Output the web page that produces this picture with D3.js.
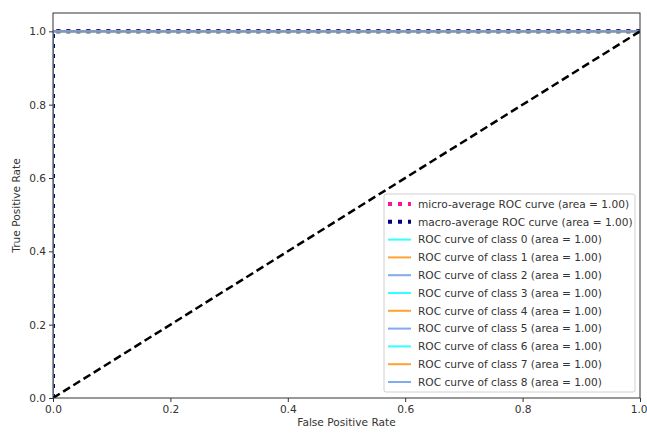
<!DOCTYPE html>
<html>
<head>
<meta charset="utf-8">
<script src="https://cdn.jsdelivr.net/npm/d3@7"></script>
<style>
    body { margin: 0; background: #fff; }
    text { font-family: "DejaVu Sans", sans-serif; fill: #333; }
    .axis path, .axis line { stroke: #333; }
</style>
</head>
<body>
<div id="roc"></div>
<script>
// ROC points (fpr, tpr) for each curve
var microCurve = [[0, 0], [0, 1], [1, 1]];
var macroCurve = [[0, 0], [0, 1], [1, 1]];
var classCurves = [
    [[0, 0], [0, 1], [1, 1]],
    [[0, 0], [0, 1], [1, 1]],
    [[0, 0], [0, 1], [1, 1]],
    [[0, 0], [0, 1], [1, 1]],
    [[0, 0], [0, 1], [1, 1]],
    [[0, 0], [0, 1], [1, 1]],
    [[0, 0], [0, 1], [1, 1]],
    [[0, 0], [0, 1], [1, 1]],
    [[0, 0], [0, 1], [1, 1]]
];
var microArea = 1.00;
var macroArea = 1.00;
var classAreas = [1.00, 1.00, 1.00, 1.00, 1.00, 1.00, 1.00, 1.00, 1.00];
var chanceLine = [[0, 0], [1, 1]];
var xTicks = [0, 0.2, 0.4, 0.6, 0.8, 1.0];
var yTicks = [0, 0.2, 0.4, 0.6, 0.8, 1.0];
var classColors = ["aqua", "darkorange", "cornflowerblue"];

var outerWidth = 647;
var outerHeight = 434;
var margin = {top: 13, right: 7, bottom: 36, left: 53};
var width = outerWidth - margin.left - margin.right;
var height = outerHeight - margin.top - margin.bottom;

var root = d3.select("#roc")
    .append("svg")
    .attr("width", outerWidth)
    .attr("height", outerHeight);

var svg = root.append("g")
    .attr("transform", "translate(" + margin.left + "," + margin.top + ")");

var xScale = d3.scaleLinear().domain([0, 1]).range([0, width]);
var yScale = d3.scaleLinear().domain([0, 1.05]).range([height, 0]);

svg.append("clipPath")
    .attr("id", "plot_clip")
    .append("rect")
    .attr("width", width)
    .attr("height", height);

var line = d3.line()
    .x(d => xScale(d[0]))
    .y(d => yScale(d[1]));

var plot = svg.append("g").attr("clip-path", "url(#plot_clip)");

plot.append("path")
    .datum(microCurve)
    .attr("d", line)
    .attr("fill", "none")
    .attr("stroke", "deeppink")
    .attr("stroke-width", 4)
    .attr("stroke-dasharray", "4,6");

plot.append("path")
    .datum(macroCurve)
    .attr("d", line)
    .attr("fill", "none")
    .attr("stroke", "navy")
    .attr("stroke-width", 4)
    .attr("stroke-dasharray", "4,6");

plot.selectAll(".class_curve")
    .data(classCurves)
    .enter().append("path")
    .attr("class", "class_curve")
    .attr("d", line)
    .attr("fill", "none")
    .attr("stroke", (d, i) => classColors[i % 3])
    .attr("stroke-width", 2)
    .attr("opacity", 0.8);

plot.append("path")
    .datum(chanceLine)
    .attr("d", line)
    .attr("fill", "none")
    .attr("stroke", "black")
    .attr("stroke-width", 2.5)
    .attr("stroke-dasharray", "8,4");

// Axes
var xAxis = svg.append("g")
    .attr("class", "x axis")
    .attr("transform", "translate(0," + height + ")")
    .call(d3.axisBottom(xScale).tickValues(xTicks).tickFormat(d3.format(".1f")).tickSize(4).tickSizeOuter(0));

xAxis.selectAll("text")
    .style("font-size", "10.6px");

// keep the last label inside the window
xAxis.selectAll("text")
    .filter(d => d === 1)
    .attr("text-anchor", "end")
    .attr("x", margin.right);

svg.append("g")
    .attr("class", "y axis")
    .call(d3.axisLeft(yScale).tickValues(yTicks).tickFormat(d3.format(".1f")).tickSize(4).tickSizeOuter(0))
    .selectAll("text")
    .style("font-size", "10.6px");

svg.selectAll(".axis .domain").remove();

// Frame
svg.append("rect")
    .attr("width", width)
    .attr("height", height)
    .attr("fill", "none")
    .attr("stroke", "#333")
    .attr("stroke-width", 1);

svg.append("text")
    .attr("x", width / 2)
    .attr("y", height + 28)
    .attr("text-anchor", "middle")
    .style("font-size", "10.6px")
    .text("False Positive Rate");

svg.append("text")
    .attr("transform", "translate(" + (-33) + "," + (height / 2) + ") rotate(-90)")
    .attr("text-anchor", "middle")
    .style("font-size", "10.6px")
    .text("True Positive Rate");

// Legend
var legendItems = [
    {label: "micro-average ROC curve (area = " + microArea.toFixed(2) + ")", color: "deeppink", dotted: true},
    {label: "macro-average ROC curve (area = " + macroArea.toFixed(2) + ")", color: "navy", dotted: true}
].concat(classAreas.map((a, i) => ({
    label: "ROC curve of class " + i + " (area = " + a.toFixed(2) + ")",
    color: classColors[i % 3],
    dotted: false
})));

var legendLeft = 384 - margin.left;
var legendTop = 194 - margin.top;
var rowHeight = 17.8;

var legend = svg.append("g")
    .attr("transform", "translate(" + legendLeft + "," + legendTop + ")");

legend.append("rect")
    .attr("width", 251)
    .attr("height", 198)
    .attr("rx", 2)
    .attr("fill", "white")
    .attr("fill-opacity", 0.8)
    .attr("stroke", "#d0d0d0");

var rows = legend.selectAll(".legend_row")
    .data(legendItems)
    .enter().append("g")
    .attr("class", "legend_row")
    .attr("transform", (d, i) => "translate(0," + (10 + i * rowHeight) + ")");

rows.append("line")
    .attr("x1", 4)
    .attr("x2", 27)
    .attr("stroke", d => d.color)
    .attr("stroke-width", d => d.dotted ? 4 : 2)
    .attr("stroke-dasharray", d => d.dotted ? "4,6" : null)
    .attr("opacity", d => d.dotted ? 1 : 0.8);

rows.append("text")
    .attr("x", 34)
    .attr("dy", "0.35em")
    .style("font-size", "10.6px")
    .text(d => d.label);
</script>
</body>
</html>
